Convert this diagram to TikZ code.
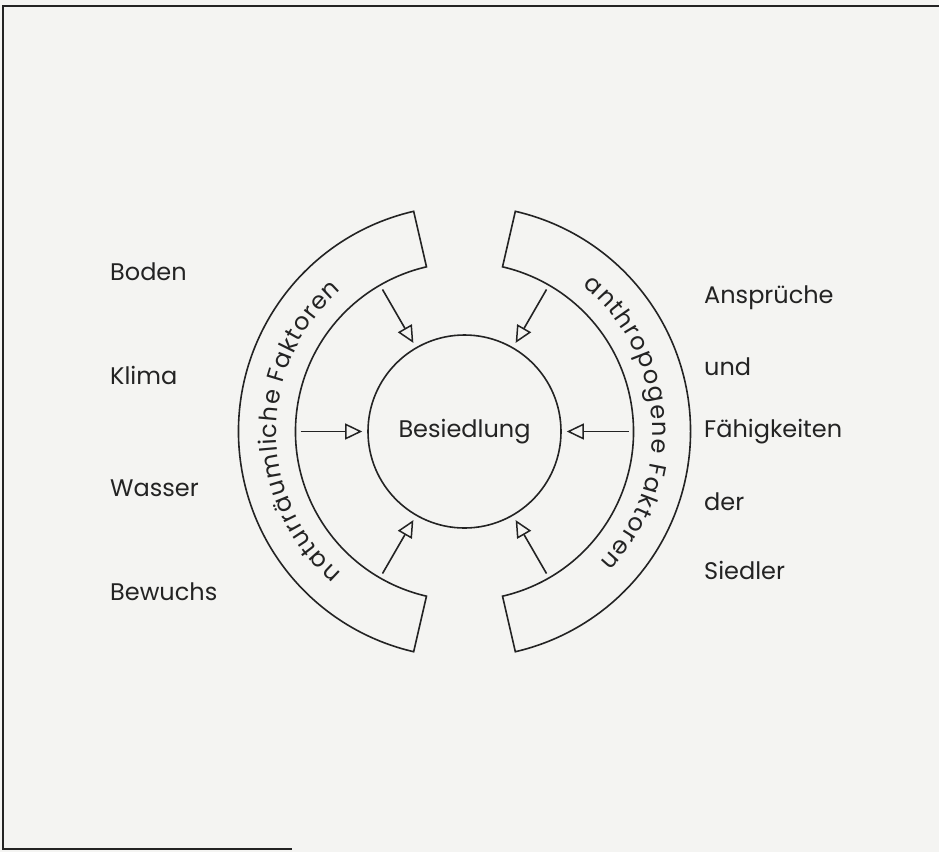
\documentclass[tikz,border=0pt]{standalone}
\usepackage{fontspec}
\setmainfont{Poppins}
\usetikzlibrary{arrows.meta,decorations.text}
\definecolor{paper}{HTML}{F4F4F2}
\definecolor{ink}{HTML}{232323}
\newcommand{\lblsize}{\fontsize{24}{28}\selectfont}
\tikzset{
  ln/.style={draw=ink, line width=1.6pt},
  frameline/.style={draw=ink, line width=1.8pt},
  flowarrow/.style={ln, -{Triangle[open, length=17pt, width=16pt, line width=1.5pt]}, shorten >=5pt},
  lbl/.style={anchor=west, inner sep=0pt, text=ink, font=\lblsize},
  bandtext/.style={decorate, decoration={text effects along path, text={#1},
     text effects/.cd, text along path, fit text to path,
     characters={text=ink, font=\lblsize}}}
}
\begin{document}
\begin{tikzpicture}[x=1pt,y=1pt]
\fill[paper] (0,0) rectangle (939,-852);
\useasboundingbox (0,0) rectangle (939,-852);
% frame
\coordinate (ftr) at (939,-6);
\coordinate (ftl) at (3,-6);
\coordinate (fbl) at (3,-849);
\coordinate (fbr) at (292,-849);
\draw[frameline] (ftr) -- (ftl) -- (fbl) -- (fbr);

\coordinate (C) at (464.5,-431.5);
% central circle
\node[circle, ln, minimum size=193pt, inner sep=0pt, font=\lblsize, text=ink] (bes) at (C) {Besiedlung};

% bands
\draw[ln] ([shift={(C)}]103:226pt) arc[start angle=103, end angle=257, radius=226pt]
  -- ([shift={(C)}]257:169pt) arc[start angle=257, end angle=103, radius=169pt] -- cycle;
\draw[ln] ([shift={(C)}]77:226pt) arc[start angle=77, end angle=-77, radius=226pt]
  -- ([shift={(C)}]-77:169pt) arc[start angle=-77, end angle=77, radius=169pt] -- cycle;

% band texts
\path[bandtext={naturräumliche Faktoren}]
  ([shift={(C)}]229:188pt) arc[start angle=229, end angle=131, radius=188pt];
\path[bandtext={anthropogene Faktoren}]
  ([shift={(C)}]51:188pt) arc[start angle=51, end angle=-44, radius=188pt];

% arrows
\foreach \a in {0,60,120,180,240,300}{
  \coordinate (s\a) at ([shift={(C)}]\a:164pt);
  \draw[flowarrow] (s\a) -- (bes.\a);
}

% labels
\node[lbl] (boden) at (110,-272) {Boden};
\node[lbl] (klima) at (110,-375) {Klima};
\node[lbl] (wasser) at (110,-488) {Wasser};
\node[lbl] (bewuchs) at (110,-592) {Bewuchs};
\node[lbl] (anspr) at (704,-298) {Ansprüche};
\node[lbl] (und) at (704,-367) {und};
\node[lbl] (faeh) at (704,-432) {Fähigkeiten};
\node[lbl] (der) at (704,-502) {der};
\node[lbl] (siedler) at (704,-570) {Siedler};
\end{tikzpicture}
\end{document}
